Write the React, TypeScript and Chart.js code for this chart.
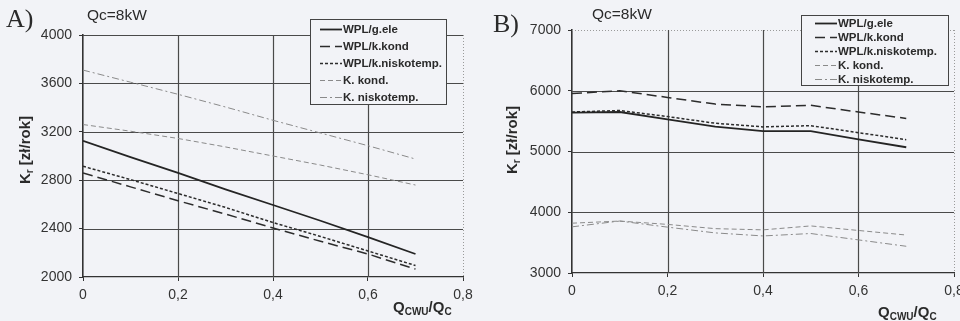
import React, { useEffect, useRef } from "react";
import { Chart, registerables } from "chart.js";

Chart.register(...registerables);

// ---------- data ----------
const xValues = [0, 0.1, 0.2, 0.3, 0.4, 0.5, 0.6, 0.7];
const seriesNames = ["WPL/g.ele", "WPL/k.kond", "WPL/k.niskotemp.", "K. kond.", "K. niskotemp."];

// Panel A
const aWplGEle = [3125, 2990, 2860, 2725, 2595, 2465, 2330, 2190];
const aWplKKond = [2860, 2745, 2630, 2520, 2405, 2295, 2190, 2065];
const aWplKNisko = [2915, 2805, 2690, 2575, 2450, 2335, 2215, 2095];
const aKKond = [3260, 3205, 3145, 3075, 3000, 2925, 2845, 2760];
const aKNisko = [3710, 3610, 3510, 3405, 3295, 3190, 3085, 2975];

// Panel B
const bWplGEle = [5640, 5650, 5530, 5410, 5335, 5335, 5200, 5070];
const bWplKKond = [5955, 6000, 5890, 5780, 5735, 5760, 5650, 5545];
const bWplKNisko = [5650, 5675, 5575, 5465, 5405, 5425, 5310, 5195];
const bKKond = [3820, 3855, 3800, 3730, 3710, 3775, 3700, 3625];
const bKNisko = [3760, 3855, 3755, 3660, 3610, 3650, 3545, 3440];

const xTicks = [0, 0.2, 0.4, 0.6, 0.8];
const aYTicks = [2000, 2400, 2800, 3200, 3600, 4000];
const bYTicks = [3000, 4000, 5000, 6000, 7000];
const panelLabels = ["A)", "B)"];
const titleText = "Qc=8kW";

// ---------- styles ----------
const BG = "#f2f3f7";
const INK = "#2a2a2a";
const FONT = '"Liberation Sans", Arial, sans-serif';

const lineStyles = [
  { borderColor: "#242424", borderWidth: 1.8, borderDash: [] as number[] },
  { borderColor: "#2c2c2c", borderWidth: 1.5, borderDash: [10, 5] },
  { borderColor: "#2c2c2c", borderWidth: 1.5, borderDash: [3, 2] },
  { borderColor: "#8a8a8a", borderWidth: 1, borderDash: [5, 3] },
  { borderColor: "#8a8a8a", borderWidth: 1, borderDash: [7, 3, 2, 3] },
];

type Panel = {
  label: string;
  series: number[][];
  yTicks: number[];
  yStep: number;
  axisWidth: number;
  xAxisHeight: number;
  padTop: number;
  padRight: number;
  topDotted: boolean;
  labelPos: [number, number];
  titlePos: [number, number];
  yTitlePos: [number, number];
  xTitlePos: [number, number];
  legend: { x: number; y: number; w: number; h: number; row0: number; gap: number; lx: number };
};

const panels: Panel[] = [
  {
    label: panelLabels[0],
    series: [aWplGEle, aWplKKond, aWplKNisko, aKKond, aKNisko],
    yTicks: aYTicks,
    yStep: 400,
    axisWidth: 83,
    xAxisHeight: 44,
    padTop: 35,
    padRight: 17,
    topDotted: false,
    labelPos: [6, 20],
    titlePos: [87, 16],
    yTitlePos: [26, 150],
    xTitlePos: [393, 312],
    legend: { x: 310, y: 19, w: 136, h: 85, row0: 29, gap: 17, lx: 320 },
  },
  {
    label: panelLabels[1],
    series: [bWplGEle, bWplKKond, bWplKNisko, bKKond, bKNisko],
    yTicks: bYTicks,
    yStep: 1000,
    axisWidth: 92,
    xAxisHeight: 48,
    padTop: 30,
    padRight: 6,
    topDotted: true,
    labelPos: [13, 25],
    titlePos: [112, 15],
    yTitlePos: [33, 140],
    xTitlePos: [398, 317],
    legend: { x: 321, y: 15, w: 147, h: 70, row0: 23, gap: 14, lx: 335 },
  },
];

function fmtX(v: number) {
  if (Math.abs(v) < 1e-9) return "0";
  return v.toFixed(1).replace(".", ",");
}

type Part = { t: string; size: number; dy: number };

function drawParts(ctx: CanvasRenderingContext2D, parts: Part[], x: number, y: number, center: boolean) {
  let total = 0;
  for (const p of parts) {
    ctx.font = `bold ${p.size}px ${FONT}`;
    total += ctx.measureText(p.t).width;
  }
  let cx = center ? x - total / 2 : x;
  for (const p of parts) {
    ctx.font = `bold ${p.size}px ${FONT}`;
    ctx.fillText(p.t, cx, y + p.dy);
    cx += ctx.measureText(p.t).width;
  }
}

function makeDecor(panel: Panel) {
  return {
    id: "decor",
    beforeDatasetsDraw(chart: any) {
      const { ctx, chartArea } = chart;
      const { left, right, top, bottom } = chartArea;
      const xs = chart.scales.x;
      const ys = chart.scales.y;
      ctx.save();
      // horizontal grid
      for (const v of panel.yTicks) {
        const py = Math.round(ys.getPixelForValue(v)) + 0.5;
        if (v === panel.yTicks[0]) continue;
        const isTop = v === panel.yTicks[panel.yTicks.length - 1];
        if (isTop && panel.topDotted) {
          ctx.strokeStyle = "#9a9a9a";
          ctx.lineWidth = 1;
          ctx.setLineDash([1, 2]);
        } else {
          ctx.strokeStyle = "#4a4a4a";
          ctx.lineWidth = 1.2;
          ctx.setLineDash([]);
        }
        ctx.beginPath();
        ctx.moveTo(left, py);
        ctx.lineTo(right, py);
        ctx.stroke();
      }
      // vertical grid
      for (const v of xTicks) {
        if (v === 0) continue;
        const px = Math.round(xs.getPixelForValue(v)) + 0.5;
        const isLast = v === xTicks[xTicks.length - 1];
        if (isLast) {
          ctx.strokeStyle = "#9a9a9a";
          ctx.lineWidth = 1;
          ctx.setLineDash([1, 2]);
        } else {
          ctx.strokeStyle = "#4a4a4a";
          ctx.lineWidth = 1.2;
          ctx.setLineDash([]);
        }
        ctx.beginPath();
        ctx.moveTo(px, top);
        ctx.lineTo(px, bottom);
        ctx.stroke();
      }
      ctx.restore();
    },
    afterDraw(chart: any) {
      const { ctx } = chart;
      ctx.save();
      ctx.fillStyle = INK;
      // panel label
      ctx.font = `26px "Liberation Serif", "DejaVu Serif", serif`;
      ctx.textBaseline = "middle";
      ctx.textAlign = "left";
      ctx.fillText(panel.label, panel.labelPos[0], panel.labelPos[1]);
      // title
      ctx.font = `15.5px ${FONT}`;
      ctx.fillText(titleText, panel.titlePos[0], panel.titlePos[1]);

      // legend
      const L = panel.legend;
      ctx.fillStyle = BG;
      ctx.fillRect(L.x, L.y, L.w, L.h);
      ctx.strokeStyle = "#444";
      ctx.lineWidth = 1;
      ctx.setLineDash([]);
      ctx.strokeRect(L.x + 0.5, L.y + 0.5, L.w, L.h);
      chart.data.datasets.forEach((ds: any, i: number) => {
        const yy = L.row0 + i * L.gap + 0.5;
        ctx.strokeStyle = ds.borderColor;
        ctx.lineWidth = ds.borderWidth;
        ctx.setLineDash(ds.borderDash || []);
        ctx.beginPath();
        ctx.moveTo(L.lx, yy);
        ctx.lineTo(L.lx + 22, yy);
        ctx.stroke();
        ctx.setLineDash([]);
        ctx.fillStyle = INK;
        ctx.font = `bold 11.5px ${FONT}`;
        ctx.textBaseline = "middle";
        ctx.fillText(ds.label, L.lx + 23, yy);
      });

      // y title (rotated)
      ctx.fillStyle = INK;
      ctx.save();
      ctx.translate(panel.yTitlePos[0], panel.yTitlePos[1]);
      ctx.rotate(-Math.PI / 2);
      ctx.textBaseline = "middle";
      drawParts(
        ctx,
        [
          { t: "K", size: 15, dy: 0 },
          { t: "r", size: 10, dy: 4 },
          { t: " [zł/rok]", size: 15, dy: 0 },
        ],
        0,
        0,
        true
      );
      ctx.restore();

      // x title
      ctx.textBaseline = "alphabetic";
      drawParts(
        ctx,
        [
          { t: "Q", size: 15, dy: 0 },
          { t: "CWU", size: 10, dy: 3 },
          { t: "/Q", size: 15, dy: 0 },
          { t: "C", size: 10, dy: 3 },
        ],
        panel.xTitlePos[0],
        panel.xTitlePos[1],
        false
      );
      ctx.restore();
    },
  };
}

function PanelChart({ panel, left }: { panel: Panel; left: number }) {
  const ref = useRef<HTMLCanvasElement | null>(null);
  useEffect(() => {
    if (!ref.current) return;
    Chart.defaults.font.family = FONT;
    const datasets = panel.series.map((vals, i) => ({
      label: seriesNames[i],
      data: vals.map((v, j) => ({ x: xValues[j], y: v })),
      ...lineStyles[i],
      pointRadius: 0,
      tension: 0,
      fill: false,
    }));
    const yMin = panel.yTicks[0];
    const yMax = panel.yTicks[panel.yTicks.length - 1];
    const chart = new Chart(ref.current, {
      type: "line",
      data: { datasets },
      options: {
        animation: false,
        responsive: false,
        maintainAspectRatio: false,
        layout: { padding: { left: 0, top: panel.padTop, right: panel.padRight, bottom: 0 } },
        plugins: { legend: { display: false }, tooltip: { enabled: false }, title: { display: false } },
        scales: {
          x: {
            type: "linear",
            min: xTicks[0],
            max: xTicks[xTicks.length - 1],
            afterBuildTicks: (s: any) => {
              s.ticks = xTicks.map((v) => ({ value: v }));
            },
            ticks: {
              callback: (v: any) => fmtX(Number(v)),
              color: "#333",
              font: { size: 14 },
              padding: 6,
              maxRotation: 0,
              autoSkip: false,
            },
            grid: { drawOnChartArea: false, drawTicks: true, tickLength: 4, tickColor: "#333" },
            border: { display: true, color: "#333", width: 1.3 },
            afterFit: (s: any) => {
              s.height = panel.xAxisHeight;
              s.paddingLeft = 0;
              s.paddingRight = 0;
            },
          },
          y: {
            type: "linear",
            min: yMin,
            max: yMax,
            afterBuildTicks: (s: any) => {
              s.ticks = panel.yTicks.map((v) => ({ value: v }));
            },
            ticks: {
              color: "#333",
              font: { size: 14 },
              padding: 7,
              callback: (v: any) => String(v),
            },
            grid: { drawOnChartArea: false, drawTicks: true, tickLength: 4, tickColor: "#333" },
            border: { display: true, color: "#333", width: 1.6 },
            afterFit: (s: any) => {
              s.width = panel.axisWidth;
              s.paddingTop = 0;
              s.paddingBottom = 0;
            },
          },
        },
      } as any,
      plugins: [makeDecor(panel)],
    });
    return () => chart.destroy();
  }, [panel]);
  return (
    <canvas
      ref={ref}
      width={480}
      height={321}
      style={{ position: "absolute", left, top: 0, width: 480, height: 321 }}
    />
  );
}

export default function App() {
  return (
    <div
      style={{
        position: "absolute",
        left: 0,
        top: 0,
        width: 960,
        height: 321,
        background: BG,
        overflow: "hidden",
      }}
    >
      <PanelChart panel={panels[0]} left={0} />
      <PanelChart panel={panels[1]} left={480} />
    </div>
  );
}
